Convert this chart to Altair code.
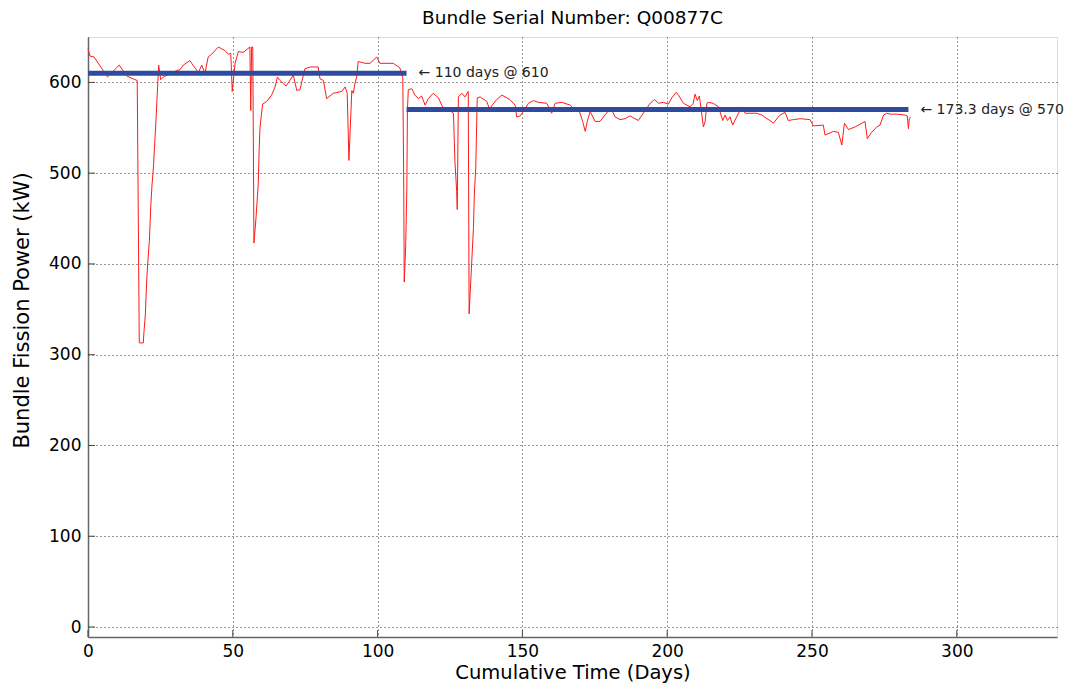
import altair as alt
import pandas as pd

# Red trace: cumulative time (days) and bundle fission power (kW)
days = [0, 0.7, 2.1, 6.7, 10.8, 13.4, 17.0, 17.7, 19.1, 19.3, 19.8, 20.3, 20.7, 21.2, 21.7, 22.1, 22.6,
        23.5, 24.4, 25.1, 26.0, 30.6, 31.8, 32.9, 35.2, 35.8, 38.1, 39.3, 40.4, 41.5, 42.7, 45.0, 47.3,
        48.5, 49.3, 49.8, 50.8, 51.9, 53.6, 55.9, 56.2, 56.5, 56.9, 57.3, 58.0, 58.8, 59.1, 59.4, 60.3,
        61.7, 63.4, 64.6, 65.4, 66.3, 68.4, 70.9, 72.1, 73.2, 74.9, 76.7, 79.5, 80.1, 81.3, 82.4, 84.7,
        87.6, 88.8, 89.5, 90.1, 91.1, 91.6, 92.2, 92.8, 93.3, 95.7, 97.4, 99.7, 100.8, 103.2, 105.4,
        107.7, 108.7, 109.0, 109.2, 109.7, 110.1, 110.3, 110.6, 111.8, 112.9, 114.1, 115.2, 116.4,
        117.5, 119.2, 121.0, 122.7, 125.0, 126.2, 126.7, 127.3, 127.5, 127.9, 129.1, 130.2, 131.3,
        131.6, 132.5, 133.1, 133.4, 133.9, 134.4, 135.4, 137.7, 138.6, 141.1, 142.9, 145.7, 147.5,
        148.0, 149.2, 150.6, 152.1, 153.8, 155.5, 158.4, 160.1, 161.3, 163.6, 166.5, 167.6, 169.3,
        169.9, 170.8, 171.7, 172.4, 173.4, 175.1, 176.8, 178.5, 180.5, 182.0, 183.7, 185.4, 187.2,
        190.0, 192.4, 194.1, 195.6, 197.0, 198.7, 200.4, 201.6, 203.1, 203.9, 205.6, 207.9, 209.0,
        209.6, 210.4, 211.1, 211.9, 212.5, 213.1, 213.7, 214.2, 215.9, 217.7, 219.2, 220.0, 220.8,
        221.7, 222.6, 224.0, 225.7, 226.9, 228.6, 230.9, 232.7, 234.4, 235.5, 236.7, 238.4, 239.0,
        240.7, 241.8, 243.6, 245.9, 249.3, 250.5, 253.9, 254.5, 257.4, 259.1, 260.3, 261.2, 262.6,
        264.9, 267.2, 268.3, 269.1, 270.6, 272.4, 273.5, 274.7, 275.8, 277.0, 279.3, 282.1, 282.9,
        283.3, 283.6, 284.1]
power = [637, 629, 628, 606, 619, 607, 602, 313, 313, 324, 344, 384, 404, 426, 465, 487, 507,
         560, 619, 603, 606, 613, 614, 619, 624, 621, 611, 619, 610, 628, 631, 639, 635,
         631, 632, 590, 621, 634, 633, 639, 569, 639, 639, 423, 450, 489, 525, 551, 576,
         579, 586, 595, 606, 602, 596, 608, 591, 592, 615, 617, 617, 604, 602, 582, 588,
         590, 595, 588, 514, 591, 588, 599, 606, 623, 621, 621, 628, 621, 621, 621,
         616, 605, 500, 380, 420, 484, 569, 592, 593, 586, 582, 585, 575,
         582, 588, 583, 571, 569, 566, 513, 480, 460, 584, 588, 584, 590,
         345, 402, 440, 476, 506, 583, 584, 579, 571, 581, 586, 581, 575,
         562, 563, 569, 577, 580, 578, 577, 566, 577, 578, 575, 571, 571,
         566, 557, 546, 557, 568, 557, 557, 564, 572, 562, 559, 560, 563,
         558, 569, 577, 581, 577, 578, 576, 583, 589, 586, 577, 573, 577,
         587, 580, 585, 566, 551, 557, 577, 578, 577, 573, 558, 564, 558,
         562, 553, 562, 573, 566, 566, 566, 564, 560, 558, 555, 562, 564,
         567, 558, 559, 560, 559, 552, 553, 542, 546, 545, 531, 555, 548,
         551, 555, 557, 538, 545, 551, 553, 564, 566, 565, 565, 564, 563,
         549, 560, 562]

# Average-power segments
seg_start = [0, 110]
seg_end = [110, 283.3]
seg_level = [610, 570]
seg_label = ["\u2190 110 days @ 610", "\u2190 173.3 days @ 570"]

x_ticks = [0, 50, 100, 150, 200, 250, 300]
y_ticks = [0, 100, 200, 300, 400, 500, 600]

W, H = 969, 600
FONT = "DejaVu Sans"

trace = pd.DataFrame({"days": days, "power": power})
segs = pd.DataFrame({"start": seg_start, "end": seg_end, "level": seg_level, "label": seg_label})
xt = pd.DataFrame({"v": x_ticks})
yt = pd.DataFrame({"v": y_ticks})

xscale = alt.Scale(domain=[0, 334.6], nice=False, zero=False)
yscale = alt.Scale(domain=[-11, 650], nice=False, zero=False)

xaxis = alt.Axis(values=x_ticks, grid=True, gridDash=[1, 3], gridColor="#333", gridWidth=1,
                 domainColor="#666", domainWidth=1.5, tickSize=0, labelPadding=6,
                 labelFont=FONT, labelFontSize=17, labelColor="#000", labelFlush=False,
                 title="Cumulative Time (Days)", titleFont=FONT, titleFontSize=19.5,
                 titleFontWeight="normal", titleColor="#000", titleBaseline="alphabetic", titleY=41)
yaxis = alt.Axis(values=y_ticks, grid=True, gridDash=[1, 3], gridColor="#333", gridWidth=1,
                 domainColor="#666", domainWidth=1.5, tickSize=0, labelPadding=7,
                 labelFont=FONT, labelFontSize=17, labelColor="#000", labelFlush=False,
                 title="Bundle Fission Power (kW)", titleFont=FONT, titleFontSize=21,
                 titleFontWeight="normal", titleColor="#000", titleAngle=270,
                 titleBaseline="alphabetic", titleAlign="center", titleX=-60, titleY=273)

line = alt.Chart(trace).mark_line(color="#ff1a1a", strokeWidth=1).encode(
    x=alt.X("days:Q", scale=xscale, axis=xaxis),
    y=alt.Y("power:Q", scale=yscale, axis=yaxis),
    order="days:Q",
)

bars = alt.Chart(segs).mark_rule(color="#2e4b9f", strokeWidth=5).encode(
    x=alt.X("start:Q", scale=xscale),
    x2="end:Q",
    y=alt.Y("level:Q", scale=yscale),
)

labels = alt.Chart(segs).mark_text(align="left", baseline="middle", dx=12, font=FONT,
                                   fontSize=14, color="#222").encode(
    x=alt.X("end:Q", scale=xscale),
    y=alt.Y("level:Q", scale=yscale),
    text="label:N",
)

xticks = alt.Chart(xt).mark_rule(color="#444", strokeWidth=1).encode(
    x=alt.X("v:Q", scale=xscale), y=alt.value(H), y2=alt.value(H - 7))
yticks = alt.Chart(yt).mark_rule(color="#444", strokeWidth=1).encode(
    y=alt.Y("v:Q", scale=yscale), x=alt.value(0), x2=alt.value(7))

chart = alt.layer(line, bars, labels, xticks, yticks).properties(
    width=W, height=H,
    title=alt.TitleParams("Bundle Serial Number: Q00877C", font=FONT, fontSize=18.5,
                          fontWeight="normal", color="#000", anchor="middle", offset=10),
    autosize=alt.AutoSizeParams(type="none"),
    padding={"left": 80, "top": 29, "right": 24, "bottom": 50},
).configure_view(stroke=None).configure(background="white")

chart.save("out.html", embed_options={"renderer": "svg", "actions": False})
